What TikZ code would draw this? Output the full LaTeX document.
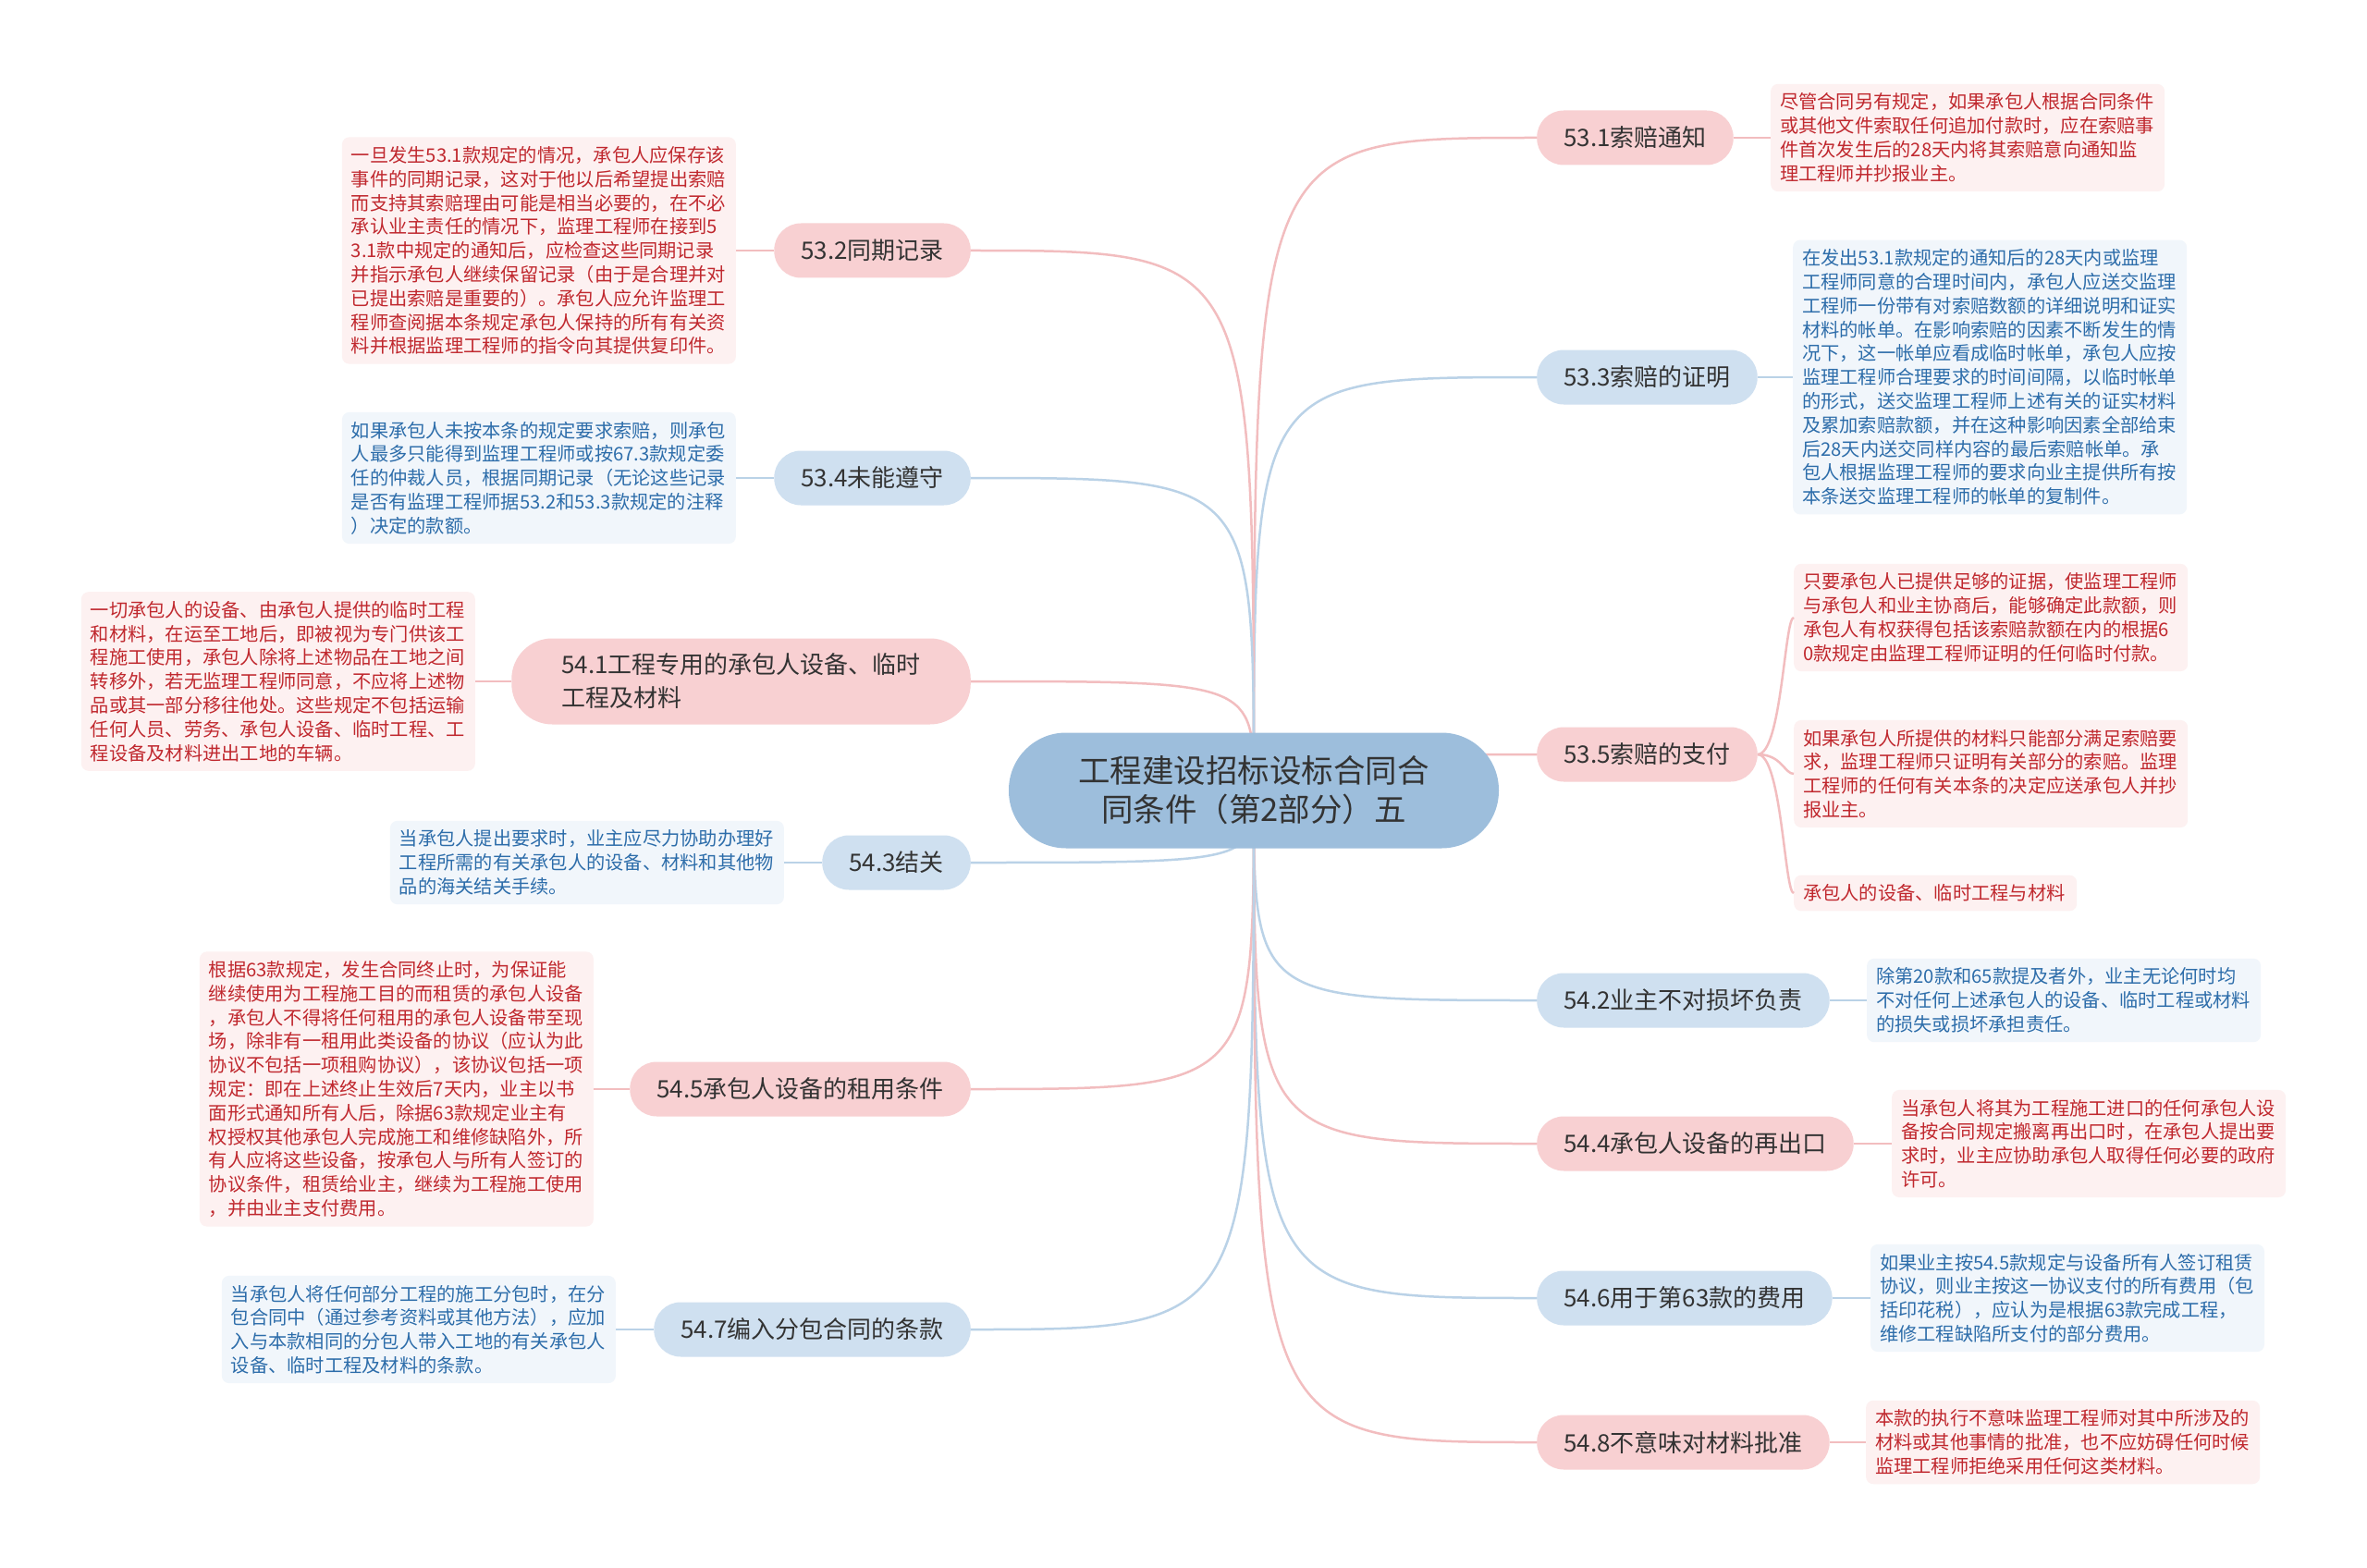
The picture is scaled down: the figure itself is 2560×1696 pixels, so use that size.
\documentclass[tikz,border=0pt]{standalone}
\usepackage{fontspec}
\setmainfont{Noto Sans CJK SC}
\usepackage{tikz}
\usetikzlibrary{positioning}

\definecolor{clrroot}{HTML}{9DBEDC}
\definecolor{clrpink}{HTML}{F8D0D2}
\definecolor{clrblue}{HTML}{CFE0F0}
\definecolor{clrpinkbg}{HTML}{FDF1F1}
\definecolor{clrbluebg}{HTML}{F1F6FB}
\definecolor{clrpinktxt}{HTML}{C0282E}
\definecolor{clrbluetxt}{HTML}{2D6DAA}
\definecolor{clrpinkline}{HTML}{F2BDBF}
\definecolor{clrblueline}{HTML}{BAD2E7}
\definecolor{clrlabel}{HTML}{333333}

\begin{document}
\begin{tikzpicture}[x=1pt,y=-1pt,
    rootbox/.style={fill=clrroot,rounded corners=62pt,minimum width=530pt,minimum height=125pt,
        align=center,text=clrlabel,font=\fontsize{34.5pt}{42pt}\selectfont},
    branchbox/.style={rounded corners=29pt,minimum height=59pt,inner xsep=29pt,
        text=clrlabel,font=\fontsize{26pt}{36pt}\selectfont},
    pinkbranch/.style={branchbox,fill=clrpink},
    bluebranch/.style={branchbox,fill=clrblue},
    notebox/.style={rounded corners=8pt,inner xsep=10pt,inner ysep=10pt,text width=406pt,
        align=left,font=\fontsize{20.25pt}{25.8pt}\selectfont},
    pinknote/.style={notebox,fill=clrpinkbg,text=clrpinktxt},
    bluenote/.style={notebox,fill=clrbluebg,text=clrbluetxt}]

    \fill[white] (0,0) rectangle (2560,1696);
    \coordinate(hub) at (1356,855);

    % right branches
    \node(b531)[pinkbranch,anchor=west] at (1662,149) {53.1索赔通知};
    \node(b533)[bluebranch,anchor=west] at (1662,408) {53.3索赔的证明};
    \node(b535)[pinkbranch,anchor=west] at (1662,816) {53.5索赔的支付};
    \node(b542)[bluebranch,anchor=west] at (1662,1082) {54.2业主不对损坏负责};
    \node(b544)[pinkbranch,anchor=west] at (1662,1237) {54.4承包人设备的再出口};
    \node(b546)[bluebranch,anchor=west] at (1662,1404) {54.6用于第63款的费用};
    \node(b548)[pinkbranch,anchor=west] at (1662,1560) {54.8不意味对材料批准};

    % left branches
    \node(b532)[pinkbranch,anchor=east] at (1050,271) {53.2同期记录};
    \node(b534)[bluebranch,anchor=east] at (1050,517) {53.4未能遵守};
    \node(b541)[pinkbranch,anchor=east,align=left,minimum height=93pt,rounded corners=44pt,
        inner xsep=54pt] at (1050,737) {54.1工程专用的承包人设备、临时\\工程及材料};
    \node(b543)[bluebranch,anchor=east] at (1050,933) {54.3结关};
    \node(b545)[pinkbranch,anchor=east] at (1050,1178) {54.5承包人设备的租用条件};
    \node(b547)[bluebranch,anchor=east] at (1050,1438) {54.7编入分包合同的条款};

    % notes on the right
    \node(n531)[pinknote,right=40pt of b531] {尽管合同另有规定，如果承包人根据合同条件\\或其他文件索取任何追加付款时，应在索赔事\\件首次发生后的28天内将其索赔意向通知监\\理工程师并抄报业主。};
    \node(n533)[bluenote,right=38pt of b533] {在发出53.1款规定的通知后的28天内或监理\\工程师同意的合理时间内，承包人应送交监理\\工程师一份带有对索赔数额的详细说明和证实\\材料的帐单。在影响索赔的因素不断发生的情\\况下，这一帐单应看成临时帐单，承包人应按\\监理工程师合理要求的时间间隔，以临时帐单\\的形式，送交监理工程师上述有关的证实材料\\及累加索赔款额，并在这种影响因素全部给束\\后28天内送交同样内容的最后索赔帐单。承\\包人根据监理工程师的要求向业主提供所有按\\本条送交监理工程师的帐单的复制件。};
    \node(n535a)[pinknote,anchor=west] at (1940,668) {只要承包人已提供足够的证据，使监理工程师\\与承包人和业主协商后，能够确定此款额，则\\承包人有权获得包括该索赔款额在内的根据6\\0款规定由监理工程师证明的任何临时付款。};
    \node(n535b)[pinknote,anchor=west] at (1940,837) {如果承包人所提供的材料只能部分满足索赔要\\求，监理工程师只证明有关部分的索赔。监理\\工程师的任何有关本条的决定应送承包人并抄\\报业主。};
    \node(n535c)[pinknote,anchor=west,text width=286pt] at (1940,966) {承包人的设备、临时工程与材料};
    \node(n542)[bluenote,right=40pt of b542] {除第20款和65款提及者外，业主无论何时均\\不对任何上述承包人的设备、临时工程或材料\\的损失或损坏承担责任。};
    \node(n544)[pinknote,right=41pt of b544] {当承包人将其为工程施工进口的任何承包人设\\备按合同规定搬离再出口时，在承包人提出要\\求时，业主应协助承包人取得任何必要的政府\\许可。};
    \node(n546)[bluenote,right=41pt of b546] {如果业主按54.5款规定与设备所有人签订租赁\\协议，则业主按这一协议支付的所有费用（包\\括印花税），应认为是根据63款完成工程，\\维修工程缺陷所支付的部分费用。};
    \node(n548)[pinknote,right=39pt of b548] {本款的执行不意味监理工程师对其中所涉及的\\材料或其他事情的批准，也不应妨碍任何时候\\监理工程师拒绝采用任何这类材料。};

    % notes on the left
    \node(n532)[pinknote,left=41pt of b532] {一旦发生53.1款规定的情况，承包人应保存该\\事件的同期记录，这对于他以后希望提出索赔\\而支持其索赔理由可能是相当必要的，在不必\\承认业主责任的情况下，监理工程师在接到5\\3.1款中规定的通知后，应检查这些同期记录\\并指示承包人继续保留记录（由于是合理并对\\已提出索赔是重要的）。承包人应允许监理工\\程师查阅据本条规定承包人保持的所有有关资\\料并根据监理工程师的指令向其提供复印件。};
    \node(n534)[bluenote,left=41pt of b534] {如果承包人未按本条的规定要求索赔，则承包\\人最多只能得到监理工程师或按67.3款规定委\\任的仲裁人员，根据同期记录（无论这些记录\\是否有监理工程师据53.2和53.3款规定的注释\\）决定的款额。};
    \node(n541)[pinknote,left=39pt of b541] {一切承包人的设备、由承包人提供的临时工程\\和材料，在运至工地后，即被视为专门供该工\\程施工使用，承包人除将上述物品在工地之间\\转移外，若无监理工程师同意，不应将上述物\\品或其一部分移往他处。这些规定不包括运输\\任何人员、劳务、承包人设备、临时工程、工\\程设备及材料进出工地的车辆。};
    \node(n543)[bluenote,left=41pt of b543] {当承包人提出要求时，业主应尽力协助办理好\\工程所需的有关承包人的设备、材料和其他物\\品的海关结关手续。};
    \node(n545)[pinknote,left=39pt of b545] {根据63款规定，发生合同终止时，为保证能\\继续使用为工程施工目的而租赁的承包人设备\\，承包人不得将任何租用的承包人设备带至现\\场，除非有一租用此类设备的协议（应认为此\\协议不包括一项租购协议），该协议包括一项\\规定：即在上述终止生效后7天内，业主以书\\面形式通知所有人后，除据63款规定业主有\\权授权其他承包人完成施工和维修缺陷外，所\\有人应将这些设备，按承包人与所有人签订的\\协议条件，租赁给业主，继续为工程施工使用\\，并由业主支付费用。};
    \node(n547)[bluenote,left=41pt of b547] {当承包人将任何部分工程的施工分包时，在分\\包合同中（通过参考资料或其他方法），应加\\入与本款相同的分包人带入工地的有关承包人\\设备、临时工程及材料的条款。};

    %Lines
    \begin{scope}[line width=2.5pt]
        \draw[clrpinkline] (hub) .. controls (hub |- b531.west) .. (b531.west);
        \draw[clrblueline] (hub) .. controls (hub |- b533.west) .. (b533.west);
        \draw[clrpinkline] (hub) .. controls (hub |- b535.west) .. (b535.west);
        \draw[clrblueline] (hub) .. controls (hub |- b542.west) .. (b542.west);
        \draw[clrpinkline] (hub) .. controls (hub |- b544.west) .. (b544.west);
        \draw[clrblueline] (hub) .. controls (hub |- b546.west) .. (b546.west);
        \draw[clrpinkline] (hub) .. controls (hub |- b548.west) .. (b548.west);
        \draw[clrpinkline] (hub) .. controls (hub |- b532.east) .. (b532.east);
        \draw[clrblueline] (hub) .. controls (hub |- b534.east) .. (b534.east);
        \draw[clrpinkline] (hub) .. controls (hub |- b541.east) .. (b541.east);
        \draw[clrblueline] (hub) .. controls (hub |- b543.east) .. (b543.east);
        \draw[clrpinkline] (hub) .. controls (hub |- b545.east) .. (b545.east);
        \draw[clrblueline] (hub) .. controls (hub |- b547.east) .. (b547.east);

        \draw[clrpinkline] (b531.east) .. controls +(20,0) and +(-20,0) .. (n531.west);
        \draw[clrblueline] (b533.east) .. controls +(20,0) and +(-20,0) .. (n533.west);
        \draw[clrpinkline] (b535.east) .. controls +(26,0) and +(-10,0) .. (n535a.west);
        \draw[clrpinkline] (b535.east) .. controls +(26,0) and +(-10,0) .. (n535b.west);
        \draw[clrpinkline] (b535.east) .. controls +(26,0) and +(-10,0) .. (n535c.west);
        \draw[clrblueline] (b542.east) .. controls +(20,0) and +(-20,0) .. (n542.west);
        \draw[clrpinkline] (b544.east) .. controls +(20,0) and +(-20,0) .. (n544.west);
        \draw[clrblueline] (b546.east) .. controls +(20,0) and +(-20,0) .. (n546.west);
        \draw[clrpinkline] (b548.east) .. controls +(20,0) and +(-20,0) .. (n548.west);
        \draw[clrpinkline] (n532.east) .. controls +(20,0) and +(-20,0) .. (b532.west);
        \draw[clrblueline] (n534.east) .. controls +(20,0) and +(-20,0) .. (b534.west);
        \draw[clrpinkline] (n541.east) .. controls +(20,0) and +(-20,0) .. (b541.west);
        \draw[clrblueline] (n543.east) .. controls +(20,0) and +(-20,0) .. (b543.west);
        \draw[clrpinkline] (n545.east) .. controls +(20,0) and +(-20,0) .. (b545.west);
        \draw[clrblueline] (n547.east) .. controls +(20,0) and +(-20,0) .. (b547.west);
    \end{scope}

    \node(title)[rootbox] at (hub) {工程建设招标设标合同合\\同条件（第2部分）五};
\end{tikzpicture}
\end{document}
